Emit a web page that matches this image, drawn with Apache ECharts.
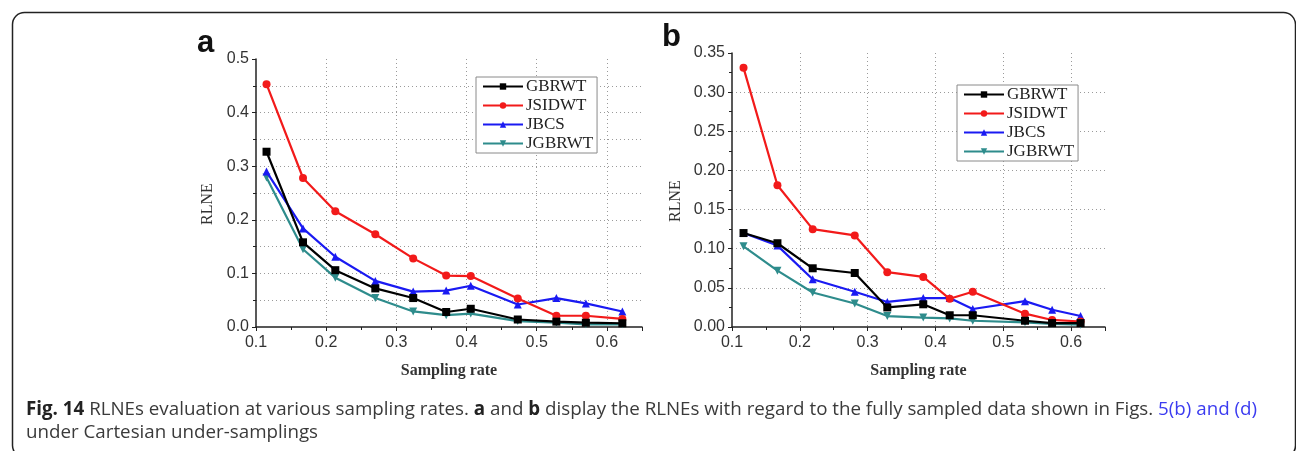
<!DOCTYPE html>
<html>
<head>
<meta charset="utf-8">
<script src="https://cdn.jsdelivr.net/npm/echarts@6/dist/echarts.min.js"></script>
<style>
  html, body { margin: 0; padding: 0; background: #fff; }
  #main { width: 1296px; height: 451px; }
</style>
</head>
<body>
<div id="main"></div>
<script>
// panel a
var rateA = [0.115, 0.167, 0.213, 0.270, 0.324, 0.371, 0.406, 0.473, 0.528, 0.570, 0.622];
var gbrwtA = [0.327, 0.158, 0.106, 0.072, 0.054, 0.028, 0.034, 0.014, 0.010, 0.008, 0.007];
var jsidwtA = [0.453, 0.278, 0.216, 0.173, 0.128, 0.096, 0.095, 0.053, 0.021, 0.021, 0.015];
var jbcsA = [0.290, 0.184, 0.131, 0.086, 0.066, 0.068, 0.077, 0.042, 0.054, 0.044, 0.029];
var jgbrwtA = [0.279, 0.145, 0.092, 0.054, 0.029, 0.022, 0.025, 0.011, 0.008, 0.005, 0.005];

// panel b
var rateB = [0.117, 0.167, 0.219, 0.281, 0.329, 0.382, 0.421, 0.455, 0.532, 0.572, 0.614];
var gbrwtB = [0.120, 0.107, 0.075, 0.069, 0.025, 0.029, 0.015, 0.015, 0.008, 0.005, 0.005];
var jsidwtB = [0.331, 0.181, 0.125, 0.117, 0.070, 0.064, 0.036, 0.045, 0.017, 0.009, 0.007];
var jbcsB = [0.120, 0.104, 0.061, 0.045, 0.032, 0.037, 0.037, 0.023, 0.033, 0.022, 0.014];
var jgbrwtB = [0.103, 0.072, 0.044, 0.030, 0.014, 0.012, 0.011, 0.008, 0.006, 0.004, 0.003];

var names = ["GBRWT", "JSIDWT", "JBCS", "JGBRWT"];
var colors = ["#000000", "#f21a1a", "#1a1af2", "#2e8c8c"];
var symbols = ["rect", "circle", "triangle", "triangle"];
var rotates = [0, 0, 0, 180];

var serif = "'Liberation Serif', 'Times New Roman', serif";
var sans = "'Liberation Sans', Arial, sans-serif";
var dotted = { color: "#9a9a9a", type: [1, 3], width: 1 };

function pairs(xs, ys) {
  var out = [];
  for (var i = 0; i < xs.length; i++) out.push([xs[i], ys[i]]);
  return out;
}

function xAxisFor(idx) {
  return {
    type: "value", gridIndex: idx, min: 0.1, max: 0.65, interval: 0.1,
    name: "Sampling rate", nameLocation: "middle", nameGap: 36,
    nameTextStyle: { fontFamily: serif, fontSize: 16, fontWeight: "bold", color: "#333" },
    axisLine: { lineStyle: { color: "#222", width: 1.5 } },
    axisTick: { show: true, length: 4, lineStyle: { color: "#222" } },
    minorTick: { show: true, splitNumber: 2, length: 3, lineStyle: { color: "#222" } },
    axisLabel: { fontFamily: sans, fontSize: 16, color: "#333", margin: 8, showMaxLabel: false,
      formatter: function (v) { return v.toFixed(1); } },
    splitLine: { show: true, showMinLine: false, showMaxLine: false, lineStyle: dotted }
  };
}

function yAxisFor(idx, max, interval, digits, minor) {
  return {
    type: "value", gridIndex: idx, min: 0, max: max, interval: interval,
    name: "RLNE", nameLocation: "middle", nameGap: digits === 1 ? 40 : 48,
    nameTextStyle: { fontFamily: serif, fontSize: 16, color: "#333", padding: [0, 22, 0, 0] },
    axisLine: { show: true, lineStyle: { color: "#222", width: 1.5 } },
    axisTick: { show: true, length: 4, lineStyle: { color: "#222" } },
    minorTick: { show: true, splitNumber: 2, length: 3, lineStyle: { color: "#222" } },
    minorSplitLine: { show: minor, lineStyle: dotted },
    axisLabel: { fontFamily: sans, fontSize: 16, color: "#333", margin: 7,
      formatter: function (v) { return v.toFixed(digits); } },
    splitLine: { show: true, showMinLine: false, showMaxLine: false, lineStyle: dotted }
  };
}

function seriesFor(idx, xs, lists) {
  return lists.map(function (ys, k) {
    return {
      type: "line", name: names[k], xAxisIndex: idx, yAxisIndex: idx,
      data: pairs(xs, ys),
      symbol: symbols[k], symbolRotate: rotates[k], symbolSize: 8,
      lineStyle: { color: colors[k], width: 2.2 },
      itemStyle: { color: colors[k] },
      z: 10 - k
    };
  });
}

function legendFor(left, top) {
  return {
    data: names, orient: "vertical", left: left, top: top,
    itemWidth: 40, itemHeight: 8, itemGap: 2,
    padding: [1, 4, 1, 6],
    borderColor: "#8a8a8a", borderWidth: 1, backgroundColor: "#fff",
    textStyle: { fontFamily: serif, fontSize: 17, color: "#222", padding: [0, 0, 0, -2] }
  };
}

var chart = echarts.init(document.getElementById("main"));
chart.setOption({
  animation: false,
  backgroundColor: "#fff",
  grid: [
    { left: 256, top: 59, width: 386, height: 268 },
    { left: 732, top: 53, width: 373, height: 274 }
  ],
  xAxis: [xAxisFor(0), xAxisFor(1)],
  yAxis: [yAxisFor(0, 0.5, 0.1, 1, true), yAxisFor(1, 0.35, 0.05, 2, false)],
  legend: [legendFor(476, 77), legendFor(957, 85)],
  series: seriesFor(0, rateA, [gbrwtA, jsidwtA, jbcsA, jgbrwtA])
    .concat(seriesFor(1, rateB, [gbrwtB, jsidwtB, jbcsB, jgbrwtB])),
  graphic: [
    { type: "rect", left: 10, top: 10, z: -1,
      shape: { width: 1283, height: 445, r: 12 },
      style: { fill: "none", stroke: "#222", lineWidth: 1.5 } },
    { type: "text", left: 197, top: 28,
      style: { text: "a", font: "bold 31px " + sans, fill: "#111" } },
    { type: "text", left: 662, top: 22,
      style: { text: "b", font: "bold 31px " + sans, fill: "#111" } },
    { type: "text", left: 26, top: 398,
      style: {
        text: "{b|Fig. 14} RLNEs evaluation at various sampling rates. {b|a} and {b|b} display the RLNEs with regard to the fully sampled data shown in Figs. {l|5(b) and (d)}\nunder Cartesian under-samplings",
        font: "18.75px 'Open Sans', sans-serif", fill: "#3a3a3a", lineHeight: 23,
        rich: {
          b: { fontFamily: "'Open Sans', sans-serif", fontSize: 18.75, fontWeight: "bold", fill: "#222", lineHeight: 23 },
          l: { fontFamily: "'Open Sans', sans-serif", fontSize: 18.75, fill: "#3b3bf0", lineHeight: 23 }
        }
      } }
  ]
});
</script>
</body>
</html>
